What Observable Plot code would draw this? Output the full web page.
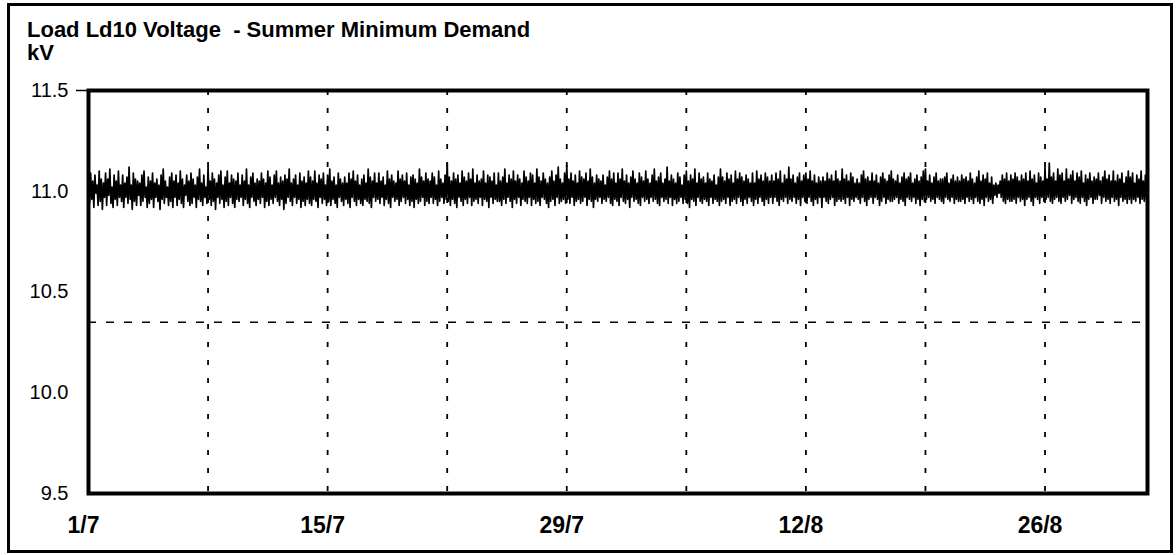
<!DOCTYPE html>
<html>
<head>
<meta charset="utf-8">
<script src="https://cdn.jsdelivr.net/npm/d3@7"></script>
<script src="https://cdn.jsdelivr.net/npm/@observablehq/plot@0.6"></script>
<style>
  html, body { margin: 0; padding: 0; background: #fff; }
  #wrap { position: relative; width: 1176px; height: 555px; overflow: hidden; background: #fff; }
  #border { position: absolute; left: 7px; top: 3px; width: 1160px; height: 544px; border: 3px solid #000; }
  .lbl { position: absolute; font-family: "Liberation Sans", Arial, Helvetica, sans-serif; font-weight: bold; font-size: 22px; line-height: 22px; color: #000; white-space: pre; }
  #chart { position: absolute; left: 0; top: 0; }
</style>
</head>
<body>
<div id="wrap">
  <div id="border"></div>
  <div id="chart"></div>
  <div class="lbl" id="title" style="left:27px; top:19px;"></div>
  <div class="lbl" id="unit" style="left:27px; top:42px;"></div>
</div>
<script>
// ---- Text ----
const titleText = "Load Ld10 Voltage  - Summer Minimum Demand";
const unitText = "kV";

// ---- Axes ----
const yTicks = [9.5, 10.0, 10.5, 11.0, 11.5];
const xTickDays = ["1998-07-01", "1998-07-15", "1998-07-29", "1998-08-12", "1998-08-26"];
const xTickLabels = ["1/7", "15/7", "29/7", "12/8", "26/8"];
const gridDays = ["1998-07-08", "1998-07-15", "1998-07-22", "1998-07-29", "1998-08-05", "1998-08-12", "1998-08-19", "1998-08-26"];
const xDomain = ["1998-07-01", "1998-09-01"];
const limitKv = [10.35];

// ---- Series: readings every 90 minutes (kV) from 1/7 00:00, one row per day ----
const seriesStart = "1998-07-01";
const stepMinutes = 90;
const voltageKv = [
11.07,10.94,11.09,10.96,11.05,10.92,11.08,10.99,11.03,10.93,11.10,10.95,11.06,10.91,11.04,10.97,
11.09,10.93,11.06,10.98,11.11,10.94,11.02,10.92,11.08,10.96,11.05,10.93,11.10,10.97,11.03,10.95,
11.08,10.92,11.04,10.97,11.07,10.94,11.12,10.96,11.03,10.91,11.09,10.95,11.06,10.93,11.05,10.98,
11.04,10.93,11.08,10.95,11.10,10.97,11.02,10.92,11.07,10.94,11.05,10.96,11.09,10.92,11.04,10.97,
11.06,10.95,11.03,10.91,11.08,10.96,11.11,10.94,11.05,10.97,11.02,10.93,11.07,10.95,11.09,10.92,
11.05,10.97,11.08,10.93,11.04,10.96,11.10,10.94,11.06,10.92,11.03,10.98,11.08,10.95,11.05,10.93,
11.09,10.94,11.06,10.97,11.03,10.92,11.07,10.96,11.11,10.95,11.04,10.93,11.08,10.97,11.02,10.94,
11.12,10.96,11.05,10.93,11.09,10.95,11.06,10.91,11.04,10.97,11.08,10.94,11.10,10.96,11.03,10.92,
11.07,10.95,11.10,10.93,11.04,10.97,11.08,10.94,11.06,10.92,11.05,10.96,11.09,10.95,11.03,10.97,
11.08,10.93,11.05,10.96,11.11,10.94,11.03,10.92,11.07,10.97,11.09,10.95,11.04,10.93,11.06,10.96,
11.05,10.94,11.09,10.97,11.06,10.92,11.04,10.95,11.10,10.93,11.07,10.96,11.03,10.94,11.08,10.97,
11.10,10.95,11.04,10.93,11.07,10.96,11.05,10.91,11.08,10.94,11.06,10.97,11.11,10.95,11.04,10.93,
11.06,10.97,11.08,10.94,11.03,10.96,11.09,10.92,11.05,10.95,11.07,10.93,11.04,10.96,11.10,10.94,
11.07,10.93,11.05,10.96,11.10,10.95,11.04,10.92,11.08,10.97,11.06,10.94,11.09,10.96,11.03,10.93,
11.08,10.95,11.11,10.93,11.05,10.96,11.07,10.94,11.03,10.92,11.09,10.97,11.06,10.95,11.04,10.93,
11.07,10.96,11.04,10.94,11.09,10.92,11.06,10.97,11.10,10.95,11.05,10.93,11.08,10.96,11.03,10.94,
11.06,10.93,11.08,10.96,11.04,10.95,11.11,10.94,11.07,10.92,11.05,10.97,11.09,10.95,11.04,10.96,
11.09,10.94,11.05,10.97,11.07,10.93,11.03,10.96,11.10,10.94,11.06,10.92,11.08,10.97,11.05,10.95,
11.04,10.96,11.10,10.93,11.06,10.95,11.08,10.97,11.05,10.94,11.09,10.96,11.03,10.93,11.07,10.95,
11.08,10.92,11.06,10.96,11.04,10.94,11.11,10.95,11.07,10.97,11.05,10.93,11.09,10.95,11.06,10.94,
11.05,10.97,11.09,10.94,11.07,10.96,11.03,10.93,11.10,10.95,11.06,10.97,11.04,10.94,11.08,10.96,
11.14,10.95,11.07,10.93,11.05,10.96,11.09,10.94,11.06,10.92,11.08,10.97,11.04,10.95,11.10,10.93,
11.07,10.96,11.05,10.94,11.09,10.97,11.06,10.93,11.11,10.95,11.04,10.96,11.08,10.94,11.05,10.97,
11.06,10.93,11.10,10.96,11.04,10.95,11.08,10.92,11.07,10.97,11.05,10.94,11.09,10.96,11.03,10.95,
11.09,10.95,11.05,10.93,11.07,10.96,11.11,10.94,11.04,10.97,11.08,10.95,11.06,10.92,11.10,10.96,
11.05,10.94,11.08,10.97,11.06,10.93,11.04,10.96,11.10,10.95,11.07,10.94,11.05,10.97,11.09,10.93,
11.08,10.96,11.04,10.94,11.11,10.95,11.07,10.93,11.05,10.97,11.09,10.96,11.06,10.94,11.04,10.92,
11.07,10.95,11.10,10.96,11.05,10.93,11.08,10.97,11.12,10.94,11.06,10.95,11.04,10.96,11.09,10.94,
11.13,10.96,11.06,10.94,11.09,10.97,11.05,10.93,11.08,10.95,11.04,10.96,11.10,10.94,11.07,10.95,
11.06,10.97,11.09,10.93,11.05,10.96,11.11,10.95,11.07,10.92,11.04,10.96,11.08,10.95,11.06,10.97,
11.05,10.94,11.08,10.96,11.03,10.95,11.07,10.97,11.10,10.94,11.06,10.93,11.09,10.96,11.04,10.95,
11.09,10.93,11.06,10.97,11.11,10.95,11.05,10.94,11.08,10.96,11.04,10.92,11.07,10.97,11.10,10.95,
11.06,10.96,11.04,10.94,11.09,10.93,11.07,10.97,11.05,10.95,11.10,10.96,11.06,10.94,11.04,10.97,
11.08,10.95,11.11,10.96,11.05,10.94,11.07,10.93,11.09,10.97,11.04,10.95,11.06,10.96,11.12,10.94,
11.05,10.97,11.08,10.93,11.06,10.96,11.04,10.94,11.09,10.95,11.07,10.97,11.03,10.94,11.08,10.96,
11.10,10.94,11.05,10.92,11.08,10.96,11.06,10.95,11.11,10.93,11.04,10.97,11.09,10.95,11.06,10.94,
11.07,10.96,11.04,10.95,11.09,10.93,11.06,10.97,11.05,10.94,11.08,10.96,11.03,10.95,11.07,10.93,
11.11,10.95,11.07,10.96,11.05,10.94,11.09,10.97,11.06,10.93,11.08,10.95,11.04,10.96,11.10,10.94,
11.06,10.97,11.09,10.95,11.07,10.93,11.05,10.96,11.08,10.94,11.06,10.97,11.04,10.95,11.09,10.93,
11.04,10.96,11.10,10.94,11.06,10.97,11.08,10.95,11.05,10.93,11.09,10.96,11.07,10.94,11.05,10.97,
11.08,10.94,11.05,10.97,11.09,10.95,11.06,10.93,11.10,10.96,11.04,10.95,11.08,10.97,11.06,10.94,
11.12,10.96,11.06,10.95,11.08,10.97,11.04,10.94,11.07,10.96,11.09,10.93,11.05,10.97,11.08,10.95,
11.09,10.94,11.06,10.97,11.10,10.95,11.05,10.93,11.08,10.96,11.04,10.94,11.07,10.97,11.05,10.92,
11.07,10.97,11.05,10.95,11.09,10.94,11.06,10.96,11.08,10.97,11.05,10.93,11.10,10.95,11.06,10.96,
11.05,10.95,11.11,10.96,11.06,10.94,11.08,10.97,11.05,10.93,11.09,10.96,11.07,10.95,11.04,10.97,
11.06,10.96,11.04,10.94,11.08,10.97,11.10,10.95,11.06,10.93,11.07,10.96,11.05,10.97,11.09,10.94,
11.05,10.97,11.08,10.96,11.04,10.93,11.07,10.95,11.09,10.97,11.06,10.94,11.05,10.96,11.08,10.95,
11.10,10.95,11.06,10.96,11.05,10.97,11.08,10.94,11.04,10.96,11.07,10.95,11.09,10.93,11.06,10.97,
11.07,10.96,11.09,10.95,11.04,10.97,11.06,10.94,11.08,10.96,11.05,10.93,11.07,10.96,11.10,10.95,
11.11,10.96,11.05,10.97,11.08,10.95,11.04,10.96,11.07,10.94,11.09,10.97,11.05,10.96,11.06,10.95,
11.06,10.94,11.07,10.97,11.09,10.96,11.04,10.95,11.06,10.97,11.08,10.94,11.05,10.96,11.07,10.95,
11.05,10.95,11.08,10.96,11.06,10.94,11.07,10.97,11.05,10.95,11.09,10.96,11.06,10.94,11.04,10.97,
11.07,10.95,11.10,10.94,11.05,10.96,11.08,10.93,11.06,10.97,11.09,10.95,11.04,10.96,11.07,10.94,
11.03,10.98,11.04,10.97,11.03,10.99,11.05,10.97,11.08,10.95,11.06,10.94,11.09,10.96,11.05,10.95,
11.08,10.95,11.06,10.96,11.09,10.94,11.07,10.97,11.05,10.95,11.08,10.96,11.06,10.93,11.09,10.96,
11.05,10.97,11.10,10.95,11.06,10.93,11.08,10.97,11.04,10.96,11.09,10.94,11.07,10.97,11.05,10.95,
11.12,10.96,11.06,10.97,11.14,10.95,11.07,10.94,11.09,10.96,11.05,10.97,11.11,10.95,11.08,10.94,
11.09,10.97,11.05,10.95,11.11,10.96,11.06,10.98,11.08,10.94,11.10,10.96,11.05,10.97,11.09,10.95,
11.07,10.94,11.10,10.97,11.04,10.95,11.08,10.93,11.06,10.96,11.09,10.97,11.05,10.94,11.07,10.96,
11.06,10.96,11.09,10.98,11.05,10.94,11.07,10.97,11.10,10.95,11.06,10.96,11.08,10.94,11.05,10.97,
11.10,10.95,11.05,10.96,11.08,10.93,11.06,10.97,11.09,10.95,11.04,10.96,11.07,10.94,11.10,10.96,
11.07,10.94,11.09,10.96,11.04,10.95,11.08,10.97,11.06,10.94,11.10,10.96,11.05,10.95,11.08,10.96,
11.03
];

// ---- Build ----
const parseDay = d3.utcParse("%Y-%m-%d");
const t0 = parseDay(seriesStart);
const series = voltageKv.map((kv, i) => ({ date: d3.utcMinute.offset(t0, i * stepMinutes), kv }));
const xTicks = xTickDays.map(parseDay);
const grid = gridDays.map(parseDay);
const labelOf = new Map(xTicks.map((d, i) => [+d, xTickLabels[i]]));

document.getElementById("title").textContent = titleText;
document.getElementById("unit").textContent = unitText;

const chart = Plot.plot({
  width: 1176,
  height: 555,
  marginLeft: 88,
  marginRight: 29,
  marginTop: 90,
  marginBottom: 62,
  style: { fontFamily: "'Liberation Sans', Arial, Helvetica, sans-serif", background: "transparent", color: "#000" },
  x: { type: "utc", domain: xDomain.map(parseDay) },
  y: { domain: [yTicks[0], yTicks[yTicks.length - 1]] },
  marks: [
    Plot.ruleX(grid, { stroke: "#000", strokeWidth: 1.8, strokeDasharray: "5,13" }),
    Plot.ruleY(limitKv, { stroke: "#000", strokeWidth: 1.6, strokeDasharray: "8,10" }),
    Plot.line(series, { x: "date", y: "kv", stroke: "#000", strokeWidth: 1.7 }),
    Plot.frame({ stroke: "#000", strokeWidth: 4 }),
    Plot.axisY(yTicks, { tickSize: 0, tickPadding: 20, fontSize: 20, label: null, tickFormat: d => d.toFixed(1) }),
    Plot.axisY([yTicks[yTicks.length - 1]], { tickSize: 12, strokeWidth: 1.5, label: null, tickFormat: () => "" }),
    Plot.axisX(xTicks, { tickSize: 0, tickPadding: 23, fontSize: 23, fontWeight: "bold", dx: -5, label: null, tickFormat: d => labelOf.get(+d) })
  ]
});
document.getElementById("chart").appendChild(chart);
</script>
</body>
</html>
